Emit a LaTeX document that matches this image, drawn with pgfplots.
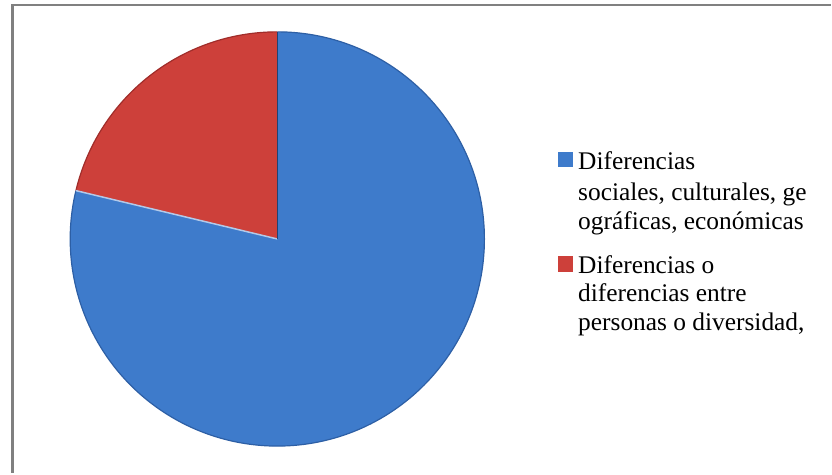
\documentclass[border=0pt]{standalone}
\usepackage{pgfplots}
\pgfplotsset{compat=1.18}
\usepackage{pgfplotstable}
\usepackage{fontspec}
\setmainfont{Liberation Serif}
\definecolor{pieblue}{RGB}{62,123,203}
\definecolor{pieblueedge}{RGB}{45,95,165}
\definecolor{piered}{RGB}{205,64,58}
\definecolor{pierededge}{RGB}{160,45,42}
\definecolor{framegray}{RGB}{128,128,128}

\pgfplotstableread{
label value
sociales 63
diversidad 17
}\piedata

\begin{document}
\pgfplotstablegetelem{0}{value}\of\piedata \let\va\pgfplotsretval
\pgfplotstablegetelem{1}{value}\of\piedata \let\vb\pgfplotsretval
\pgfmathsetmacro\redend{90+360*\vb/(\va+\vb)}
\begin{tikzpicture}
\begin{axis}[
  x=1bp, y=1bp,
  xmin=0, xmax=832, ymin=0, ymax=475,
  hide axis, clip=false,
]
\path (axis cs:0,0) rectangle (axis cs:832,475);
% frame (top and left only visible)
\draw[framegray, line width=2.2bp] (axis cs:10,0) -- (axis cs:10,470) -- (axis cs:832,470);
% pie slices
\fill[pieblue] (axis cs:276,235) -- (axis cs:276,443) arc[start angle=90, end angle=\redend-360, radius=208bp] -- cycle;
\draw[pieblueedge, line width=1.2bp] (axis cs:276,443) arc[start angle=90, end angle=\redend-360, radius=208bp];
\fill[piered] (axis cs:276,235) -- (axis cs:276,443) arc[start angle=90, end angle=\redend, radius=208bp] -- cycle;
\draw[pierededge, line width=1.2bp] (axis cs:276,443) arc[start angle=90, end angle=\redend, radius=208bp];
\draw[white!60!pieblue, line width=1.5bp] (axis cs:276,235) -- ++(\redend:208bp);
\draw[pieblueedge!70!black, line width=1.2bp] (axis cs:276,235) -- (axis cs:276,443);
% legend
\fill[pieblue] (axis cs:558,307) rectangle (axis cs:573,322);
\fill[piered] (axis cs:558,202) rectangle (axis cs:573,218);
\begin{scope}[every node/.style={anchor=base west, inner sep=0pt, font=\fontsize{25.5bp}{29.5bp}\selectfont}]
\node at (axis cs:578,305) {Diferencias};
\node at (axis cs:578,274) {sociales, culturales, ge};
\node at (axis cs:578,245) {ográficas, económicas};
\node at (axis cs:578,200) {Diferencias o};
\node at (axis cs:578,172) {diferencias entre};
\node at (axis cs:578,143) {personas o diversidad,};
\end{scope}
\end{axis}
\end{tikzpicture}
\end{document}
